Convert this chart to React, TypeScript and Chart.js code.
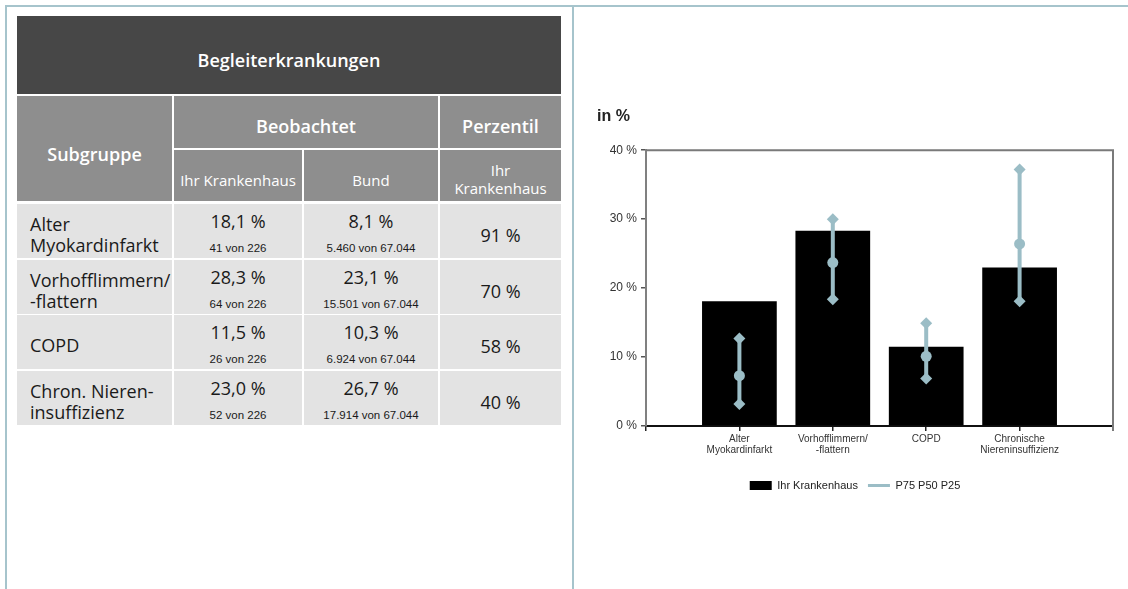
import React, { useEffect, useRef } from 'react';
import { Chart, registerables } from 'chart.js';

Chart.register(...registerables);

// ---------- chart data ----------
const categories: string[][] = [
  ['Alter', 'Myokardinfarkt'],
  ['Vorhofflimmern/', '-flattern'],
  ['COPD'],
  ['Chronische', 'Niereninsuffizienz'],
];
const hospitalValues = [18.1, 28.3, 11.5, 23.0];
const p75Values = [12.7, 30.0, 14.9, 37.2];
const p50Values = [7.3, 23.7, 10.1, 26.4];
const p25Values = [3.2, 18.4, 6.9, 18.1];
const yTickValues = [0, 10, 20, 30, 40];
const seriesNames = ['Ihr Krankenhaus', 'P75 P50 P25'];

// ---------- table data ----------
const tableTitle = 'Begleiterkrankungen';
const subgroups: string[][] = [
  ['Alter', 'Myokardinfarkt'],
  ['Vorhofflimmern/', '-flattern'],
  ['COPD'],
  ['Chron. Nieren-', 'insuffizienz'],
];
const hospitalPct = ['18,1 %', '28,3 %', '11,5 %', '23,0 %'];
const hospitalCounts = ['41 von 226', '64 von 226', '26 von 226', '52 von 226'];
const bundPct = ['8,1 %', '23,1 %', '10,3 %', '26,7 %'];
const bundCounts = ['5.460 von 67.044', '15.501 von 67.044', '6.924 von 67.044', '17.914 von 67.044'];
const percentiles = ['91 %', '70 %', '58 %', '40 %'];

const WHISKER = '#9bbdc6';
const BORDER = '#a6c4cc';
const TABLE_FONT = '"Open Sans", "Noto Sans", sans-serif';

type CellProps = { x: number; y: number; w: number; h: number; bg: string; children?: React.ReactNode };
const Cell = ({ x, y, w, h, bg, children }: CellProps) => (
  <div style={{ position: 'absolute', left: x, top: y, width: w, height: h, background: bg }}>{children}</div>
);

type TxtProps = { x: number; cy: number; w: number; text: string; size: number; weight?: number; color?: string; align?: 'left' | 'center'; family?: string };
const Txt = ({ x, cy, w, text, size, weight = 400, color = '#1a1a1a', align = 'center', family = TABLE_FONT }: TxtProps) => (
  <div
    style={{
      position: 'absolute',
      left: x,
      top: cy - 12,
      width: w,
      height: 24,
      lineHeight: '24px',
      fontSize: size,
      fontWeight: weight,
      color,
      textAlign: align,
      fontFamily: family,
      whiteSpace: 'nowrap',
    }}
  >
    {text}
  </div>
);

const cols = [
  { x: 17, w: 155 },
  { x: 174, w: 128 },
  { x: 304, w: 134 },
  { x: 440, w: 121 },
];

function Table() {
  const rowTops = subgroups.map((_, r) => Math.round(204 + r * 55.67));
  return (
    <>
      <Cell x={17} y={16} w={544} h={78} bg="#474747" />
      <Txt x={17} cy={60} w={544} text={tableTitle} size={18} weight={600} color="#fff" />
      {/* header */}
      <Cell x={17} y={96} w={155} h={105} bg="#8e8e8e" />
      <Txt x={17} cy={154} w={155} text="Subgruppe" size={18} weight={600} color="#fff" />
      <Cell x={174} y={96} w={264} h={52} bg="#8e8e8e" />
      <Txt x={174} cy={126} w={264} text="Beobachtet" size={18} weight={600} color="#fff" />
      <Cell x={440} y={96} w={121} h={52} bg="#8e8e8e" />
      <Txt x={440} cy={126} w={121} text="Perzentil" size={18} weight={600} color="#fff" />
      <Cell x={174} y={150} w={128} h={51} bg="#8e8e8e" />
      <Txt x={174} cy={180} w={128} text="Ihr Krankenhaus" size={15} color="#fff" />
      <Cell x={304} y={150} w={134} h={51} bg="#8e8e8e" />
      <Txt x={304} cy={180} w={134} text="Bund" size={15} color="#fff" />
      <Cell x={440} y={150} w={121} h={51} bg="#8e8e8e" />
      <Txt x={440} cy={170} w={121} text="Ihr" size={15} color="#fff" />
      <Txt x={440} cy={188} w={121} text="Krankenhaus" size={15} color="#fff" />
      {/* data rows */}
      {subgroups.map((sg, r) => {
        const t = rowTops[r];
        return (
          <React.Fragment key={r}>
            {cols.map((c, ci) => (
              <Cell key={ci} x={c.x} y={t} w={c.w} h={54} bg="#e3e3e3" />
            ))}
            {sg.length === 2 ? (
              <>
                <Txt x={30} cy={t + 20} w={150} text={sg[0]} size={18} align="left" />
                <Txt x={30} cy={t + 41} w={150} text={sg[1]} size={18} align="left" />
              </>
            ) : (
              <Txt x={30} cy={t + 30} w={150} text={sg[0]} size={18} align="left" />
            )}
            <Txt x={cols[1].x} cy={t + 17} w={cols[1].w} text={hospitalPct[r]} size={18} />
            <Txt x={cols[1].x} cy={t + 44} w={cols[1].w} text={hospitalCounts[r]} size={11.5} family='"Liberation Sans", Arial, sans-serif' />
            <Txt x={cols[2].x} cy={t + 17} w={cols[2].w} text={bundPct[r]} size={18} />
            <Txt x={cols[2].x} cy={t + 44} w={cols[2].w} text={bundCounts[r]} size={11.5} family='"Liberation Sans", Arial, sans-serif' />
            <Txt x={cols[3].x} cy={t + 31} w={cols[3].w} text={percentiles[r]} size={18} />
          </React.Fragment>
        );
      })}
    </>
  );
}

const framePlugin = {
  id: 'frame',
  beforeDatasetsDraw(chart: any) {
    const { ctx, chartArea } = chart;
    const { left, right, top, bottom } = chartArea;
    ctx.save();
    ctx.strokeStyle = '#7a7a7a';
    ctx.lineWidth = 2;
    ctx.beginPath();
    ctx.moveTo(left, top);
    ctx.lineTo(right, top);
    ctx.lineTo(right, bottom + 5);
    ctx.stroke();
    ctx.restore();
  },
};

function BarChart() {
  const ref = useRef<HTMLCanvasElement>(null);
  useEffect(() => {
    if (!ref.current) return;
    const barData = hospitalValues.map((v, i) => ({ x: i + 1, y: v }));
    const whiskerData: { x: number; y: number | null }[] = [];
    categories.forEach((_, i) => {
      whiskerData.push({ x: i + 1, y: p75Values[i] });
      whiskerData.push({ x: i + 1, y: p50Values[i] });
      whiskerData.push({ x: i + 1, y: p25Values[i] });
      whiskerData.push({ x: i + 1, y: null });
    });
    const chart = new Chart(ref.current, {
      type: 'bar',
      data: {
        datasets: [
          {
            type: 'bar',
            label: seriesNames[0],
            data: barData as any,
            backgroundColor: '#000',
            borderWidth: 0,
            barPercentage: 0.8,
            categoryPercentage: 1,
            order: 2,
          },
          {
            type: 'line',
            label: seriesNames[1],
            data: whiskerData as any,
            borderColor: WHISKER,
            backgroundColor: WHISKER,
            borderWidth: 4,
            spanGaps: false,
            pointStyle: (c: any) => (c.dataIndex % 4 === 1 ? 'circle' : 'rectRot'),
            pointRadius: (c: any) => (c.dataIndex % 4 === 1 ? 5.5 : 6),
            pointBackgroundColor: WHISKER,
            pointBorderWidth: 0,
            order: 1,
          } as any,
        ],
      },
      options: {
        animation: false,
        responsive: false,
        maintainAspectRatio: false,
        layout: { padding: { left: 17, right: 15, top: 0, bottom: 19 } },
        plugins: {
          tooltip: { enabled: false },
          title: {
            display: true,
            text: 'in %',
            align: 'start',
            color: '#222',
            font: { family: '"Liberation Sans", Arial, sans-serif', size: 16, weight: 'bold', lineHeight: 1.2 },
            padding: { top: 17, bottom: 24 },
          },
          legend: {
            position: 'bottom',
            labels: {
              color: '#222',
              font: { family: '"Liberation Sans", Arial, sans-serif', size: 11 },
              usePointStyle: true,
              pointStyleWidth: 22,
              boxHeight: 9,
              padding: 10,
              generateLabels: (ch: any) => {
                const items = Chart.defaults.plugins.legend.labels.generateLabels(ch);
                items.sort((a: any, b: any) => a.datasetIndex - b.datasetIndex);
                return items.map((it: any) =>
                  it.datasetIndex === 0
                    ? { ...it, pointStyle: 'rect', fillStyle: '#000', strokeStyle: '#000', lineWidth: 0 }
                    : { ...it, pointStyle: 'line', fillStyle: WHISKER, strokeStyle: WHISKER, lineWidth: 3 }
                );
              },
            },
          },
        },
        scales: {
          x: {
            type: 'linear',
            min: 0,
            max: categories.length + 1,
            offset: false,
            afterFit: (s: any) => {
              s.height = 44;
            },
            afterBuildTicks: (s: any) => {
              s.ticks = Array.from({ length: categories.length + 2 }, (_, i) => ({ value: i }));
            },
            ticks: {
              autoSkip: false,
              maxRotation: 0,
              minRotation: 0,
              padding: 3,
              color: '#333',
              font: { family: '"Liberation Sans", Arial, sans-serif', size: 10, lineHeight: 1.1 },
              callback: (v: any) => {
                const i = Number(v);
                return i >= 1 && i <= categories.length ? categories[i - 1] : '';
              },
            },
            grid: { display: true, drawOnChartArea: false, drawTicks: true, tickLength: 5, color: '#222', lineWidth: 1.5, offset: false },
            border: { display: true, color: '#111', width: 2 },
          },
          y: {
            min: 0,
            max: 40,
            afterFit: (s: any) => {
              s.width = 49;
            },
            afterBuildTicks: (s: any) => {
              s.ticks = yTickValues.map((v) => ({ value: v }));
            },
            ticks: {
              padding: 4,
              color: '#333',
              font: { family: '"Liberation Sans", Arial, sans-serif', size: 12 },
              callback: (v: any) => `${v} %`,
            },
            grid: { display: true, drawOnChartArea: false, drawTicks: true, tickLength: 5, color: '#555', lineWidth: 1.5 },
            border: { display: true, color: '#808080', width: 2 },
          },
        },
      },
      plugins: [framePlugin],
    });
    return () => chart.destroy();
  }, []);
  return (
    <canvas
      ref={ref}
      width={548}
      height={430}
      style={{ position: 'absolute', left: 580, top: 90, width: 548, height: 430 }}
    />
  );
}

export default function App() {
  return (
    <div style={{ position: 'fixed', left: 0, top: 0, width: 1128, height: 589, background: '#fff', overflow: 'hidden' }}>
      {/* page frame lines */}
      <div style={{ position: 'absolute', left: 5, top: 5, width: 1123, height: 2, background: BORDER }} />
      <div style={{ position: 'absolute', left: 5, top: 5, width: 2, height: 584, background: BORDER }} />
      <div style={{ position: 'absolute', left: 572, top: 5, width: 2, height: 584, background: BORDER }} />
      <Table />
      <BarChart />
    </div>
  );
}
